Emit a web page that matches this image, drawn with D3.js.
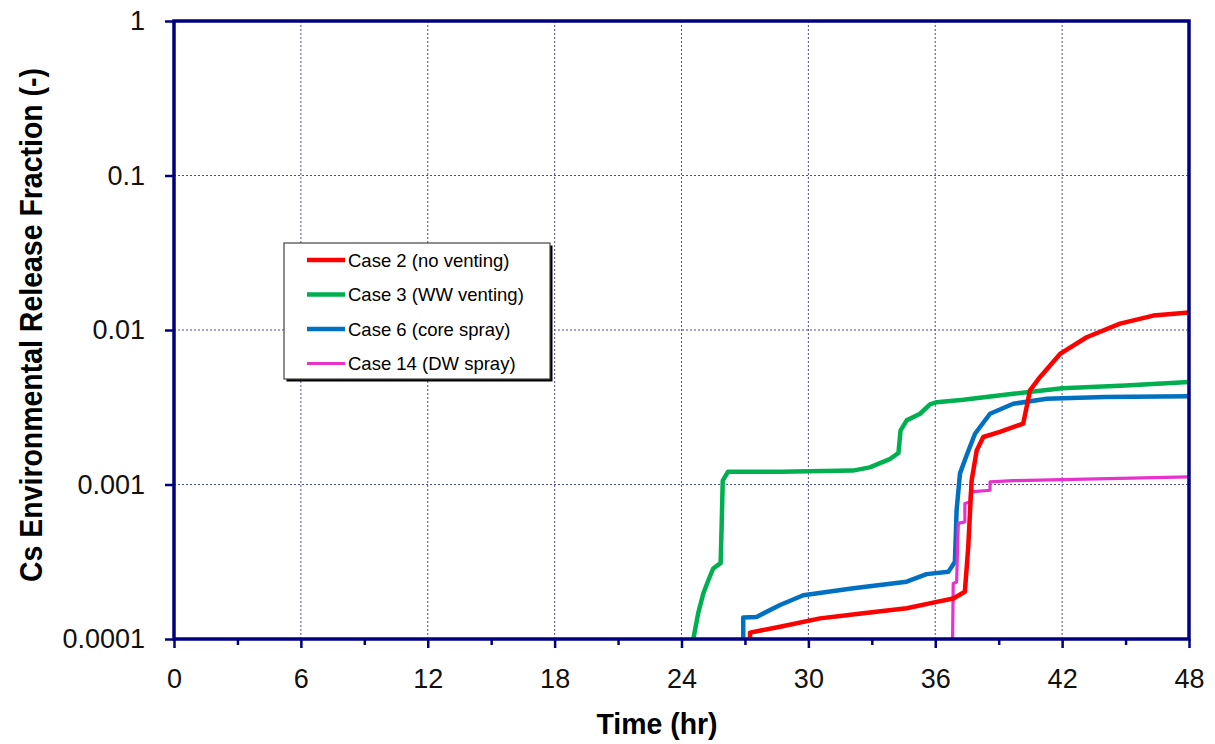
<!DOCTYPE html>
<html>
<head>
<meta charset="utf-8">
<script src="https://cdn.jsdelivr.net/npm/d3@7"></script>
<style>
  body { margin: 0; background: #fff; }
  text { font-family: "Liberation Sans", Arial, sans-serif; }
</style>
</head>
<body>
<svg id="chart" width="1215" height="744"></svg>
<script>
"use strict";

// Values (time in hr, release fraction).
const case2_t = [27.24, 27.24, 28.66, 30.55, 32.6, 34.65, 36.07, 36.85, 37.4, 37.56, 37.72, 37.96, 38.27, 39.06, 40.16, 40.32, 40.48, 40.95, 41.9, 43.16, 44.74, 46.31, 48.0];
const case2_v = [1.0e-4, 1.1e-4, 1.2e-4, 1.36e-4, 1.47e-4, 1.58e-4, 1.74e-4, 1.83e-4, 2.02e-4, 3.94e-4, 1.06e-3, 1.66e-3, 2.03e-3, 2.19e-3, 2.48e-3, 3.17e-3, 4.07e-3, 4.95e-3, 7.0e-3, 8.98e-3, 1.1e-2, 1.24e-2, 1.30e-2];

const case3_t = [24.56, 24.79, 25.03, 25.27, 25.5, 25.85, 25.9, 25.95, 26.2, 28.7, 32.1, 32.9, 33.85, 34.26, 34.36, 34.65, 35.28, 35.75, 36.07, 37.33, 39.69, 42.0, 45.0, 48.0];
const case3_v = [1.0e-4, 1.47e-4, 1.97e-4, 2.4e-4, 2.86e-4, 3.1e-4, 5.5e-4, 1.06e-3, 1.21e-3, 1.21e-3, 1.23e-3, 1.29e-3, 1.46e-3, 1.6e-3, 2.24e-3, 2.6e-3, 2.87e-3, 3.3e-3, 3.41e-3, 3.54e-3, 3.87e-3, 4.2e-3, 4.38e-3, 4.6e-3];

const case6_t = [26.92, 26.92, 27.55, 28.66, 29.76, 32.13, 34.65, 35.59, 36.62, 36.93, 37.01, 37.17, 37.49, 37.88, 38.59, 39.69, 41.27, 44.0, 48.0];
const case6_v = [1.0e-4, 1.38e-4, 1.39e-4, 1.66e-4, 1.92e-4, 2.13e-4, 2.35e-4, 2.63e-4, 2.72e-4, 3.16e-4, 6.82e-4, 1.18e-3, 1.55e-3, 2.13e-3, 2.87e-3, 3.33e-3, 3.59e-3, 3.68e-3, 3.72e-3];

const case14_t = [36.82, 36.85, 37.01, 37.09, 37.4, 37.4, 37.64, 37.67, 38.59, 38.59, 39.69, 48.0];
const case14_v = [1.0e-4, 2.29e-4, 2.34e-4, 5.6e-4, 5.73e-4, 7.53e-4, 7.7e-4, 8.95e-4, 9.18e-4, 1.04e-3, 1.06e-3, 1.12e-3];

const seriesNames = ["Case 2 (no venting)", "Case 3 (WW venting)", "Case 6 (core spray)", "Case 14 (DW spray)"];
const xTicks = [0, 6, 12, 18, 24, 30, 36, 42, 48];
const xMinorTicks = [3, 9, 15, 21, 27, 33, 39, 45];
const yTicks = [0.0001, 0.001, 0.01, 0.1, 1];
const yTickLabels = ["0.0001", "0.001", "0.01", "0.1", "1"];

const seriesColors = ["#ff0000", "#00b050", "#0070c0", "#e633cc"];
const seriesWidths = [4.5, 4.5, 4.5, 3.2];

let series = [
    {name: seriesNames[0], t: case2_t, v: case2_v, color: seriesColors[0], w: seriesWidths[0]},
    {name: seriesNames[1], t: case3_t, v: case3_v, color: seriesColors[1], w: seriesWidths[1]},
    {name: seriesNames[2], t: case6_t, v: case6_v, color: seriesColors[2], w: seriesWidths[2]},
    {name: seriesNames[3], t: case14_t, v: case14_v, color: seriesColors[3], w: seriesWidths[3]}
];

let svg = d3.select("#chart");
svg.append("rect").attr("width", 1215).attr("height", 744).style("fill", "#fff");

let plotLeft = 174, plotRight = 1189, plotTop = 21, plotBottom = 639;
let navy = "#000080";

let x = d3.scaleLinear().domain([0, 48]).range([plotLeft, plotRight]);
let y = d3.scaleLog().domain([0.0001, 1]).range([plotBottom, plotTop]);

// Dotted grid lines
svg.selectAll(".vgrid").data(xTicks.slice(1, -1)).enter().append("line")
    .attr("class", "vgrid")
    .attr("x1", d => x(d)).attr("x2", d => x(d))
    .attr("y1", plotTop).attr("y2", plotBottom)
    .style("stroke", "#4a4aa8")
    .style("stroke-width", "1px")
    .style("stroke-dasharray", "2,2");
svg.selectAll(".hgrid").data(yTicks.slice(1, -1)).enter().append("line")
    .attr("class", "hgrid")
    .attr("x1", plotLeft).attr("x2", plotRight)
    .attr("y1", d => y(d)).attr("y2", d => y(d))
    .style("stroke", "#4a4aa8")
    .style("stroke-width", "1px")
    .style("stroke-dasharray", "2,2");

// Series lines (green and blue below, red and magenta on top)
let line = d3.line()
    .x(d => x(d[0]))
    .y(d => y(d[1]));
let drawOrder = [1, 2, 3, 0];
drawOrder.forEach(function(i) {
    let s = series[i];
    svg.append("path")
        .datum(s.t.map((t, k) => [t, s.v[k]]))
        .attr("d", line)
        .style("fill", "none")
        .style("stroke", s.color)
        .style("stroke-width", s.w + "px")
        .style("stroke-linejoin", "round");
});

// Axes
let xAxis = svg.append("g")
    .attr("transform", "translate(0," + plotBottom + ")")
    .call(d3.axisBottom(x).tickValues(xTicks).tickSize(9).tickSizeOuter(0).tickPadding(21));
let xMinor = svg.append("g")
    .attr("transform", "translate(0," + plotBottom + ")")
    .call(d3.axisBottom(x).tickValues(xMinorTicks).tickSize(6).tickSizeOuter(0).tickFormat(""));
let yAxis = svg.append("g")
    .attr("transform", "translate(" + plotLeft + ",0)")
    .call(d3.axisLeft(y).tickValues(yTicks).tickSize(9).tickSizeOuter(0).tickPadding(20)
        .tickFormat((d, i) => yTickLabels[i]));

[xAxis, xMinor, yAxis].forEach(function(g) {
    g.select(".domain").remove();
    g.selectAll(".tick line").style("stroke", navy).style("stroke-width", "2.5px");
    g.selectAll(".tick text")
        .style("font-size", "27px")
        .style("fill", "#111")
        .style("font-family", "'Liberation Sans', Arial, sans-serif");
});

// Plot frame
svg.append("rect")
    .attr("x", plotLeft).attr("y", plotTop)
    .attr("width", plotRight - plotLeft).attr("height", plotBottom - plotTop)
    .style("fill", "none")
    .style("stroke", navy)
    .style("stroke-width", "3.5px");

// Axis titles
svg.append("text")
    .attr("x", 657).attr("y", 734)
    .attr("text-anchor", "middle")
    .attr("textLength", 121)
    .attr("lengthAdjust", "spacingAndGlyphs")
    .style("font-size", "30px")
    .style("font-weight", "bold")
    .style("fill", "#000")
    .text("Time (hr)");

svg.append("text")
    .attr("transform", "translate(42,325) rotate(-90)")
    .attr("text-anchor", "middle")
    .attr("textLength", 514)
    .attr("lengthAdjust", "spacingAndGlyphs")
    .style("font-size", "31px")
    .style("font-weight", "bold")
    .style("fill", "#000")
    .text("Cs Environmental Release Fraction (-)");

// Legend
let lg = svg.append("g").attr("transform", "translate(284,243)");
let lgW = 266, lgH = 136;
lg.append("rect")
    .attr("x", 2.5).attr("y", 2.5)
    .attr("width", lgW).attr("height", lgH)
    .style("fill", "#000");
lg.append("rect")
    .attr("width", lgW).attr("height", lgH)
    .style("fill", "#fff")
    .style("stroke", "#444")
    .style("stroke-width", "1.2px");

let rows = lg.selectAll(".lg_row").data(series).enter().append("g")
    .attr("class", "lg_row")
    .attr("transform", (d, i) => "translate(0," + (17 + i * 34.5) + ")");
rows.append("line")
    .attr("x1", 23).attr("x2", 61)
    .attr("y1", 0).attr("y2", 0)
    .style("stroke", d => d.color)
    .style("stroke-width", d => d.w + "px");
rows.append("text")
    .attr("x", 64).attr("y", 6.5)
    .style("font-size", "18.5px")
    .style("fill", "#000")
    .text(d => d.name);
</script>
</body>
</html>
